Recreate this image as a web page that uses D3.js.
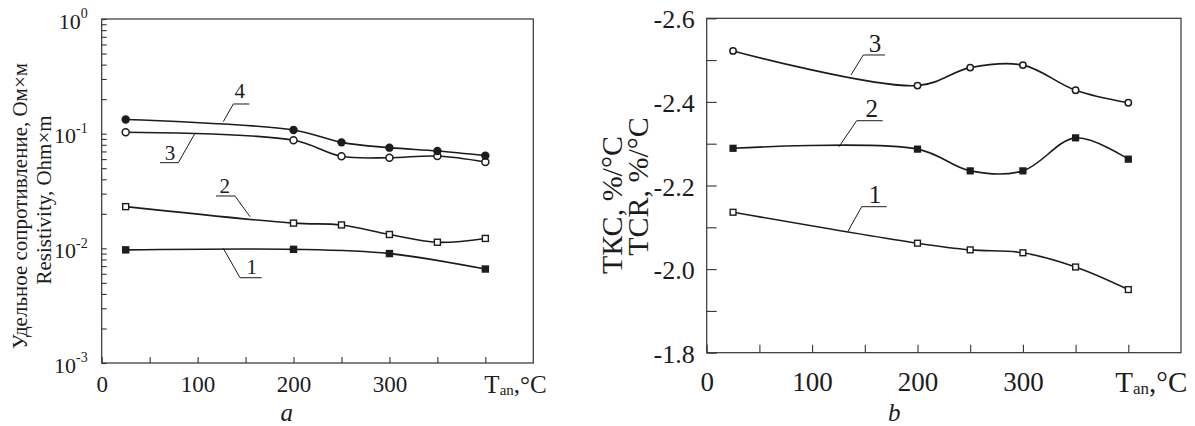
<!DOCTYPE html>
<html>
<head>
<meta charset="utf-8">
<script src="https://cdn.jsdelivr.net/npm/d3@7"></script>
<style>
  body { margin: 0; background: #fff; }
  svg { display: block; font-family: "Liberation Serif", "Times New Roman", serif; }
</style>
</head>
<body>
<svg width="1195" height="426"></svg>
<script>
// panel a: resistivity vs annealing temperature
var tempA = [25, 200, 250, 300, 350, 400];
var tempA1 = [25, 200, 300, 400];
var rho1 = [0.0097, 0.0098, 0.0090, 0.0066];
var rho2 = [0.0231, 0.0166, 0.0160, 0.0132, 0.0113, 0.0122];
var rho3 = [0.103, 0.0875, 0.0635, 0.0617, 0.0638, 0.0566];
var rho4 = [0.133, 0.1076, 0.084, 0.0755, 0.0706, 0.0643];

// panel b: TCR vs annealing temperature
var tempB = [25, 200, 250, 300, 350, 400];
var tcr1 = [-2.136, -2.062, -2.046, -2.039, -2.005, -1.951];
var tcr2 = [-2.289, -2.287, -2.235, -2.235, -2.314, -2.263];
var tcr3 = [-2.522, -2.439, -2.482, -2.488, -2.428, -2.398];

var xTickLabels = [0, 100, 200, 300];
var yDecades = [-3, -2, -1, 0];

var svg = d3.select("svg");
var ink = "#1c1c1c";

function zip(xs, ys) {
  return xs.map(function(d, i) { return {x: d, y: ys[i]}; });
}

function drawSeries(g, x, y, pts, marker, r) {
  var line = d3.line()
      .x(function(d) { return x(d.x); })
      .y(function(d) { return y(d.y); })
      .curve(d3.curveCatmullRom.alpha(0.5));

  g.append("path")
      .datum(pts)
      .attr("fill", "none")
      .attr("stroke", ink)
      .attr("stroke-width", 1.6)
      .attr("d", line);

  var open = marker.indexOf("open") == 0;
  if (marker.indexOf("circle") >= 0) {
    g.selectAll(null).data(pts).enter().append("circle")
        .attr("cx", function(d) { return x(d.x); })
        .attr("cy", function(d) { return y(d.y); })
        .attr("r", open ? r - 0.6 : r)
        .attr("fill", open ? "#fff" : ink)
        .attr("stroke", ink)
        .attr("stroke-width", open ? 1.5 : 0);
  } else {
    var s = open ? 2 * r - 1.4 : 2 * r;
    g.selectAll(null).data(pts).enter().append("rect")
        .attr("x", function(d) { return x(d.x) - s / 2; })
        .attr("y", function(d) { return y(d.y) - s / 2; })
        .attr("width", s)
        .attr("height", s)
        .attr("fill", open ? "#fff" : ink)
        .attr("stroke", ink)
        .attr("stroke-width", open ? 1.4 : 0);
  }
}

// number label with a bent leader pointing at a curve
function callout(g, x, y, c, size) {
  var px = x(c.at[0]), py = y(c.at[1]);
  var ex = px + c.elbow[0], ey = py + c.elbow[1];
  g.append("path")
      .attr("fill", "none")
      .attr("stroke", ink)
      .attr("stroke-width", 1)
      .attr("d", "M" + px + "," + py + "L" + ex + "," + ey + "L" + (ex + c.run) + "," + ey);
  g.append("text")
      .attr("x", ex + c.text[0])
      .attr("y", ey + c.text[1])
      .attr("text-anchor", "middle")
      .attr("font-size", size + "px")
      .attr("fill", ink)
      .text(c.label);
}

function frame(x, y) {
  svg.append("rect")
      .attr("x", x.range()[0])
      .attr("y", y.range()[1])
      .attr("width", x.range()[1] - x.range()[0])
      .attr("height", y.range()[0] - y.range()[1])
      .attr("fill", "none")
      .attr("stroke", "#333")
      .attr("stroke-width", 1.2);
}

function styleAxis(ax, size) {
  ax.attr("font-family", null);
  ax.select(".domain").remove();
  ax.selectAll(".tick line").attr("stroke", "#333").attr("stroke-width", 1.1);
  ax.selectAll(".tick text")
      .attr("fill", ink)
      .attr("font-size", size + "px");
}

// "T_an,°C" written at the end of the x axis
function axisTitle(px, py, size, subSize) {
  var t = svg.append("text")
      .attr("x", px)
      .attr("y", py)
      .attr("font-size", size + "px")
      .attr("fill", ink);
  t.append("tspan").text("T");
  t.append("tspan").attr("font-size", subSize + "px").attr("dy", 2).text("an");
  t.append("tspan").attr("dy", -2).text(",°C");
}

// ---------- panel a ----------
(function() {
  var x = d3.scaleLinear().domain([0, 450]).range([101.7, 533.3]);
  var y = d3.scaleLog().domain([1e-3, 1]).range([363, 19]);

  frame(x, y);

  var logTicks = [];
  yDecades.forEach(function(k) {
    var n = k < 0 ? 9 : 1;
    for (var m = 1; m <= n; m++) logTicks.push(m * Math.pow(10, k));
  });

  var ay = svg.append("g")
      .attr("transform", "translate(" + x.range()[0] + ",0)")
      .call(d3.axisLeft(y).tickValues(logTicks).tickSize(-5).tickSizeOuter(0)
        .tickPadding(14).tickFormat(function() { return ""; }));
  styleAxis(ay, 22);
  ay.selectAll(".tick text")
      .attr("dy", "0.42em")
      .each(function(d) {
        var e = Math.round(Math.log10(d));
        if (Math.abs(d - Math.pow(10, e)) > 1e-12) return;
        var t = d3.select(this);
        t.append("tspan").text("10");
        t.append("tspan").attr("font-size", "14px").attr("dy", "-0.75em").text(e);
      });

  var ax = svg.append("g")
      .attr("transform", "translate(0," + y.range()[0] + ")")
      .call(d3.axisBottom(x).tickValues(d3.range(0, 450, 50)).tickSize(-6).tickSizeOuter(0)
        .tickPadding(13)
        .tickFormat(function(d) { return xTickLabels.indexOf(d) >= 0 ? d : ""; }));
  styleAxis(ax, 23);

  axisTitle(x(400) - 1, 392.7, 25, 15);

  var g = svg.append("g");
  drawSeries(g, x, y, zip(tempA1, rho1), "filled square", 3.7);
  drawSeries(g, x, y, zip(tempA, rho2), "open square", 3.7);
  drawSeries(g, x, y, zip(tempA, rho3), "open circle", 4.1);
  drawSeries(g, x, y, zip(tempA, rho4), "filled circle", 4.2);

  [
    {label: "4", at: [126.8, 0.1272], elbow: [10, -17.7], run: 16, text: [6.5, -5.7]},
    {label: "3", at: [97.3, 0.1008], elbow: [-16.7, 29.4], run: -18.3, text: [-8.3, -3]},
    {label: "2", at: [154.6, 0.01888], elbow: [-15, -20.7], run: -19, text: [-10.3, -3]},
    {label: "1", at: [126.8, 0.0100], elbow: [16.7, 29.4], run: 21.7, text: [11.7, -4]}
  ].forEach(function(c) { callout(g, x, y, c, 21); });

  svg.append("text")
      .attr("transform", "translate(27," + 206 + ") rotate(-90)")
      .attr("text-anchor", "middle")
      .attr("font-size", "21px")
      .attr("fill", ink)
      .text("Удельное сопротивление, Ом×м");
  svg.append("text")
      .attr("transform", "translate(51," + 200 + ") rotate(-90)")
      .attr("text-anchor", "middle")
      .attr("font-size", "21px")
      .attr("fill", ink)
      .text("Resistivity, Ohm×m");

  svg.append("text")
      .attr("x", x(193))
      .attr("y", 420.5)
      .attr("text-anchor", "middle")
      .attr("font-size", "25px")
      .attr("font-style", "italic")
      .attr("fill", ink)
      .text("a");
})();

// ---------- panel b ----------
(function() {
  var x = d3.scaleLinear().domain([0, 450]).range([706.7, 1181]);
  var y = d3.scaleLinear().domain([-1.8, -2.6]).range([352.7, 18.3]);

  frame(x, y);

  var yt = d3.range(0, 9).map(function(i) { return -2.6 + i * 0.1; });
  var ay = svg.append("g")
      .attr("transform", "translate(" + x.range()[0] + ",0)")
      .call(d3.axisLeft(y).tickValues(yt).tickSize(-10).tickSizeOuter(0)
        .tickPadding(12)
        .tickFormat(function(d, i) { return i % 2 == 0 ? d.toFixed(1) : ""; }));
  styleAxis(ay, 26);
  ay.selectAll(".tick text").attr("dy", "0.37em");

  var ax = svg.append("g")
      .attr("transform", "translate(0," + y.range()[0] + ")")
      .call(d3.axisBottom(x).tickValues(d3.range(0, 450, 50)).tickSize(-8).tickSizeOuter(0)
        .tickPadding(19)
        .tickFormat(function(d) { return xTickLabels.indexOf(d) >= 0 ? d : ""; }));
  styleAxis(ax, 27);

  axisTitle(x(400) - 13, 391.7, 29, 17);

  var g = svg.append("g");
  drawSeries(g, x, y, zip(tempB, tcr1), "open square", 3.6);
  drawSeries(g, x, y, zip(tempB, tcr2), "filled square", 3.6);
  drawSeries(g, x, y, zip(tempB, tcr3), "open circle", 3.8);

  [
    {label: "3", at: [136.9, -2.4644], elbow: [12.3, -20], run: 21.7, text: [11.7, -3]},
    {label: "2", at: [125.5, -2.2928], elbow: [17.7, -26], run: 26, text: [15, -3.7]},
    {label: "1", at: [133.8, -2.0895], elbow: [14, -25], run: 25, text: [13.3, -3.7]}
  ].forEach(function(c) { callout(g, x, y, c, 25); });

  svg.append("text")
      .attr("transform", "translate(622," + 205 + ") rotate(-90)")
      .attr("text-anchor", "middle")
      .attr("font-size", "30px")
      .attr("fill", ink)
      .text("ТКС, %/°C");
  svg.append("text")
      .attr("transform", "translate(648," + 186.5 + ") rotate(-90)")
      .attr("text-anchor", "middle")
      .attr("font-size", "30px")
      .attr("fill", ink)
      .text("TCR, %/°C");

  svg.append("text")
      .attr("x", x(178))
      .attr("y", 420.5)
      .attr("text-anchor", "middle")
      .attr("font-size", "25px")
      .attr("font-style", "italic")
      .attr("fill", ink)
      .text("b");
})();
</script>
</body>
</html>
